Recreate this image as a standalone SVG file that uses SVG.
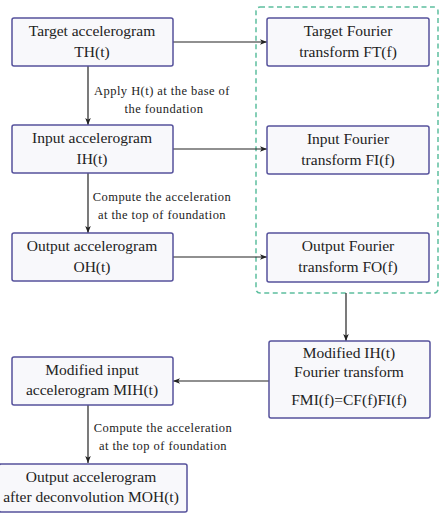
<svg xmlns="http://www.w3.org/2000/svg" width="440" height="515" viewBox="0 0 440 515">
<defs>
<style>
.box{fill:#f8f8fb;stroke:#55519c;stroke-width:1.5}
.t{font-size:15.5px;fill:#222;text-anchor:middle}
.l{font-size:12.5px;letter-spacing:0.45px;fill:#222;text-anchor:middle}
.c{stroke:#222;stroke-width:1.2;fill:none}
</style>
<marker id="ah" viewBox="0 0 10 10" refX="10" refY="5" markerWidth="7" markerHeight="7" orient="auto" markerUnits="userSpaceOnUse">
<path d="M0,1 L10,5 L0,9 L2.5,5 Z" fill="#222"/>
</marker>
</defs>
<g font-family="'Liberation Serif', 'Times New Roman', serif">
<rect x="256" y="7" width="182" height="286" rx="4" fill="none" stroke="#5dbf9f" stroke-width="1.5" stroke-dasharray="5,3.5"/>
<g id="connectors">
<line class="c" x1="173" y1="42" x2="267" y2="42" marker-end="url(#ah)"/>
<line class="c" x1="88" y1="66" x2="88" y2="125" marker-end="url(#ah)"/>
<line class="c" x1="173" y1="149" x2="267" y2="149" marker-end="url(#ah)"/>
<line class="c" x1="88" y1="173" x2="88" y2="233" marker-end="url(#ah)"/>
<line class="c" x1="173" y1="257" x2="267" y2="257" marker-end="url(#ah)"/>
<line class="c" x1="346" y1="293" x2="346" y2="341" marker-end="url(#ah)"/>
<line class="c" x1="269" y1="381" x2="173" y2="381" marker-end="url(#ah)"/>
<line class="c" x1="88" y1="405" x2="88" y2="463" marker-end="url(#ah)"/>
<text class="l" x="162" y="95">Apply H(t) at the base of</text>
<text class="l" x="164" y="113">the foundation</text>
<text class="l" x="162" y="201">Compute the acceleration</text>
<text class="l" x="162" y="219">at the top of foundation</text>
<text class="l" x="163" y="432">Compute the acceleration</text>
<text class="l" x="163" y="450">at the top of foundation</text>
</g>
<g id="n1"><rect class="box" x="12" y="18" width="161" height="48" rx="2"/>
<text class="t" x="92" y="36">Target accelerogram</text><text class="t" x="92" y="57">TH(t)</text></g>
<g id="n2"><rect class="box" x="267" y="18" width="162" height="48" rx="2"/>
<text class="t" x="348" y="36">Target Fourier</text><text class="t" x="348" y="57">transform FT(f)</text></g>
<g id="n3"><rect class="box" x="12" y="125" width="161" height="48" rx="2"/>
<text class="t" x="92" y="143">Input accelerogram</text><text class="t" x="92" y="164">IH(t)</text></g>
<g id="n4"><rect class="box" x="267" y="126" width="162" height="48" rx="2"/>
<text class="t" x="348" y="144">Input Fourier</text><text class="t" x="348" y="165">transform FI(f)</text></g>
<g id="n5"><rect class="box" x="12" y="233" width="161" height="48" rx="2"/>
<text class="t" x="92" y="251">Output accelerogram</text><text class="t" x="92" y="272">OH(t)</text></g>
<g id="n6"><rect class="box" x="267" y="233" width="162" height="49" rx="2"/>
<text class="t" x="348" y="251">Output Fourier</text><text class="t" x="348" y="272">transform FO(f)</text></g>
<g id="n7"><rect class="box" x="269" y="341" width="161" height="77" rx="2"/>
<text class="t" x="349" y="358">Modified IH(t)</text><text class="t" x="349" y="377">Fourier transform</text><text class="t" x="349" y="405">FMI(f)=CF(f)FI(f)</text></g>
<g id="n8"><rect class="box" x="12" y="357" width="161" height="48" rx="2"/>
<text class="t" x="92" y="375">Modified input</text><text class="t" x="92" y="395">accelerogram MIH(t)</text></g>
<g id="n9"><rect class="box" x="-1" y="464" width="188" height="48" rx="2"/>
<text class="t" x="91" y="482">Output accelerogram</text><text class="t" x="91" y="502">after deconvolution MOH(t)</text></g>
</g>
</svg>
